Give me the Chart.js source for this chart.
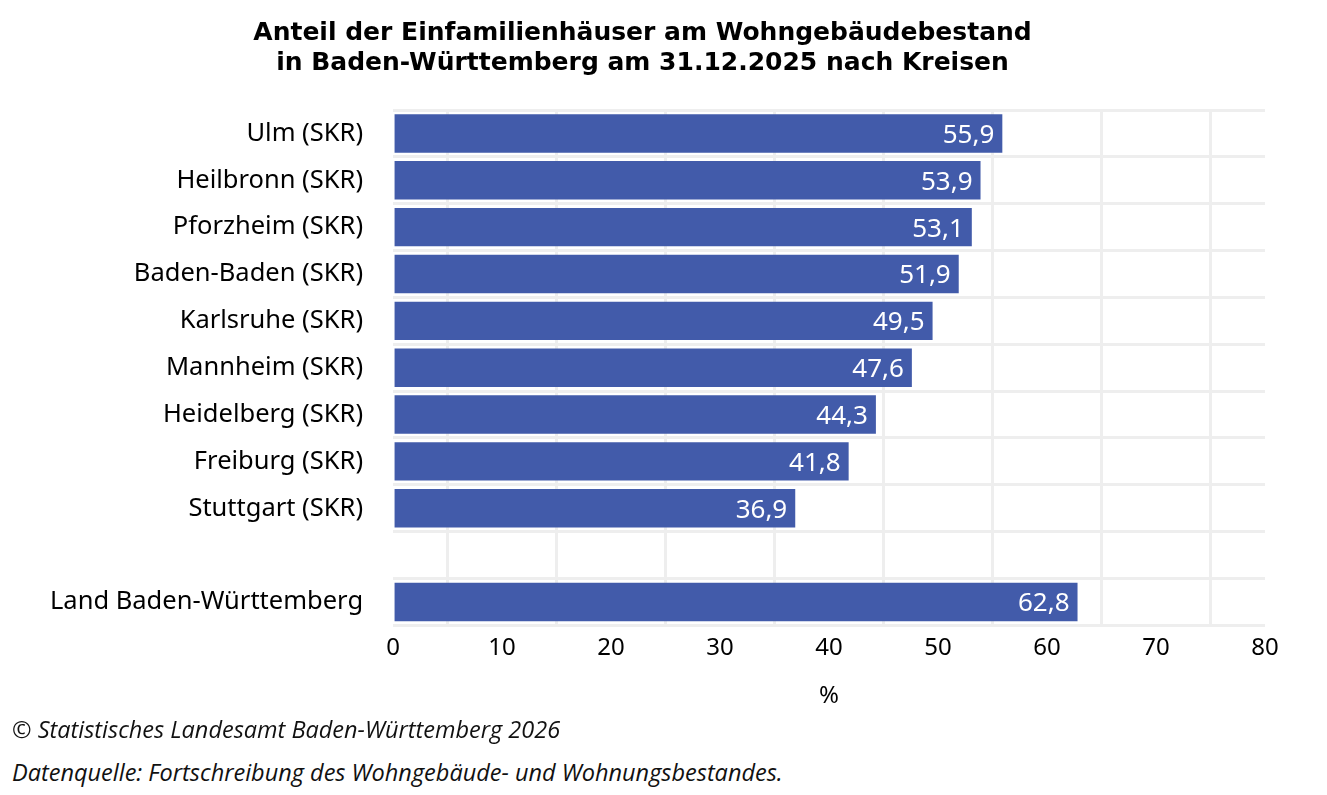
<!DOCTYPE html>
<html><head><meta charset="utf-8">
<script src="https://cdn.jsdelivr.net/npm/chart.js@4"></script>
<style>
body{margin:0;background:#fff;font-family:"DejaVu Sans",sans-serif}
#wrap{position:absolute;left:0;top:0;width:1327px;height:715px}
.note{position:absolute;left:12px;font-style:italic;font-size:23.5px;color:#111;font-family:"Open Sans",sans-serif}
</style></head><body>
<div id="wrap"><canvas id="c" width="1327" height="715"></canvas></div>
<div class="note" style="top:713px">© Statistisches Landesamt Baden-Württemberg 2026</div>
<div class="note" style="top:756px">Datenquelle: Fortschreibung des Wohngebäude- und Wohnungsbestandes.</div>
<script>
const categories=["Ulm (SKR)","Heilbronn (SKR)","Pforzheim (SKR)","Baden-Baden (SKR)","Karlsruhe (SKR)","Mannheim (SKR)","Heidelberg (SKR)","Freiburg (SKR)","Stuttgart (SKR)","","Land Baden-Württemberg"];
const values=[55.9,53.9,53.1,51.9,49.5,47.6,44.3,41.8,36.9,null,62.8];
const titleLines=["Anteil der Einfamilienhäuser am Wohngebäudebestand","in Baden-Württemberg am 31.12.2025 nach Kreisen"];
const labelsPlugin={id:'vl',afterDatasetsDraw(ch){const ctx=ch.ctx;const m=ch.getDatasetMeta(0);
ctx.save();ctx.fillStyle='#fff';ctx.font='26px "Noto Sans"';ctx.textAlign='right';ctx.textBaseline='middle';
m.data.forEach((b,i)=>{if(values[i]==null)return;ctx.fillText(values[i].toFixed(1).replace('.',','),b.x-8,b.y+2);});ctx.restore();}};
new Chart(document.getElementById('c'),{type:'bar',
data:{labels:categories,datasets:[{data:values,backgroundColor:'#425BAA',categoryPercentage:0.82,barPercentage:1}]},
options:{indexAxis:'y',responsive:false,animation:false,
layout:{padding:{left:20,right:62,top:0,bottom:0}},
plugins:{legend:{display:false},tooltip:{enabled:false},
title:{display:true,text:titleLines,color:'#000',font:{family:'"DejaVu Sans"',size:25,weight:'bold'},padding:{top:18,bottom:32},align:'center'}},
scales:{x:{min:0,max:80,ticks:{stepSize:5,color:'#000',font:{family:'"Noto Sans"',size:24},padding:8,callback:v=>v%10===0?v:''},
grid:{color:c=>c.tick&&c.tick.value%10===5?'#eeeeee':'rgba(0,0,0,0)',lineWidth:3,drawTicks:false},border:{display:false},
title:{display:true,text:'%',color:'#000',font:{family:'"Noto Sans"',size:24},padding:{top:12}}},
y:{ticks:{color:'#000',font:{family:'"Noto Sans"',size:25.5},padding:30},grid:{offset:true,color:'#eeeeee',lineWidth:3,drawTicks:false},border:{display:false}}}},
plugins:[labelsPlugin]});
</script></body></html>
